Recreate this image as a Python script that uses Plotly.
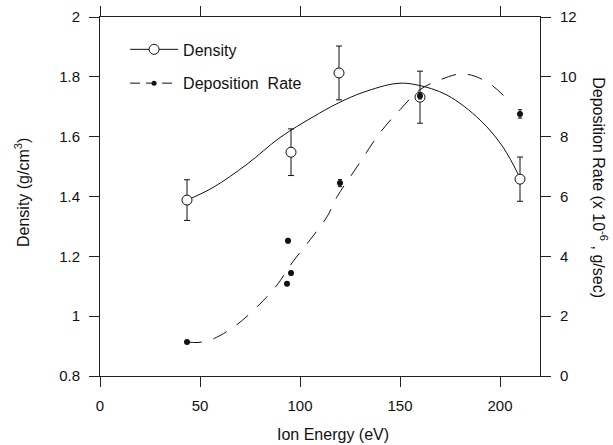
import plotly.graph_objects as go

# Measured points
dens_x = [43.5, 95.5, 119.5, 160, 210]
dens_y = [1.388, 1.548, 1.813, 1.732, 1.458]
dens_err = [0.068, 0.078, 0.09, 0.087, 0.074]

rate_x = [43.5, 93.5, 94, 95.5, 120, 160, 210]
rate_y = [1.14, 3.08, 4.52, 3.44, 6.45, 9.36, 8.76]
rate_err = [0, 0.05, 0.07, 0.06, 0.12, 0.1, 0.14]

# Fitted curves
dens_fit_x = [43.5, 56.5, 73.5, 90, 106.5, 119, 131.5, 148.5, 158.5, 173.5, 190, 201.5, 210]
dens_fit_y = [1.388, 1.43, 1.508, 1.597, 1.666, 1.712, 1.748, 1.778, 1.773, 1.739, 1.656, 1.565, 1.462]

rate_fit_x = [43.5, 49, 56.5, 67.5, 78.5, 88.5, 96, 105, 113.5, 118.5, 128.5, 140, 150, 160, 170, 181.5, 193.5, 205]
rate_fit_y = [1.14, 1.12, 1.24, 1.67, 2.31, 3.04, 3.78, 4.55, 5.32, 5.99, 6.99, 8.13, 8.90, 9.57, 9.90, 10.10, 9.83, 9.16]

x_range = [0, 220]
x_ticks = [0, 50, 100, 150, 200]
y_ticks = [0.8, 1, 1.2, 1.4, 1.6, 1.8, 2]
y2_ticks = [0, 2, 4, 6, 8, 10, 12]

FONT = "Liberation Sans, Arial, sans-serif"
INK = "#111"

fig = go.Figure()

fig.add_trace(go.Scatter(x=dens_fit_x, y=dens_fit_y, mode="lines", line=dict(color=INK, width=1, shape="spline"),
                         showlegend=False, hoverinfo="skip"))
fig.add_trace(go.Scatter(x=rate_fit_x, y=rate_fit_y, yaxis="y2", mode="lines",
                         line=dict(color=INK, width=1, dash="15px,12px", shape="spline"),
                         showlegend=False, hoverinfo="skip"))

fig.add_trace(go.Scatter(x=dens_x, y=dens_y, mode="markers",
                         marker=dict(symbol="circle", size=10, color="white", line=dict(color=INK, width=1)),
                         error_y=dict(type="data", array=dens_err, color=INK, thickness=1, width=3),
                         showlegend=False))
fig.add_trace(go.Scatter(x=rate_x, y=rate_y, yaxis="y2", mode="markers",
                         marker=dict(symbol="circle", size=6, color=INK),
                         error_y=dict(type="data", array=rate_err, color=INK, thickness=1, width=2),
                         showlegend=False))

# invisible trace so the top axis is drawn
fig.add_trace(go.Scatter(x=[None], y=[None], xaxis="x2", mode="markers", showlegend=False, hoverinfo="skip"))

# legend entries
fig.add_trace(go.Scatter(x=[None], y=[None], mode="lines+markers", name="Density", legendgroup="a",
                         line=dict(color=INK, width=1),
                         marker=dict(symbol="circle", size=10, color="white", line=dict(color=INK, width=1))))
fig.add_trace(go.Scatter(x=[None], y=[None], mode="lines+markers", name="Deposition  Rate", legendgroup="b",
                         line=dict(color=INK, width=1, dash="10px,6px"),
                         marker=dict(symbol="circle", size=5, color=INK)))

axis_common = dict(showgrid=False, zeroline=False, showline=True, linecolor="#222", linewidth=1,
                   ticks="outside", ticklen=10, tickcolor="#222", tickwidth=1, automargin=False,
                   ticklabelstandoff=6,
                   tickfont=dict(family=FONT, size=15, color=INK))

fig.update_layout(
    width=613, height=445,
    margin=dict(l=100, r=73, t=17, b=69),
    paper_bgcolor="white", plot_bgcolor="white",
    font=dict(family=FONT, color=INK),
    xaxis=dict(range=x_range, tickvals=x_ticks, **axis_common),
    xaxis2=dict(range=x_range, tickvals=x_ticks, overlaying="x", side="top", anchor="y",
                showgrid=False, zeroline=False, showline=True, linecolor="#222", linewidth=1,
                ticks="outside", ticklen=10, tickcolor="#222", tickwidth=1, showticklabels=False,
                automargin=False),
    yaxis=dict(range=[0.8, 2], tickvals=y_ticks, **axis_common),
    yaxis2=dict(range=[0, 12], tickvals=y2_ticks, overlaying="y", side="right", **axis_common),
    legend=dict(x=0.057, y=0.957, xanchor="left", yanchor="top", bgcolor="rgba(0,0,0,0)",
                font=dict(family=FONT, size=16, color=INK), itemwidth=48, tracegroupgap=10),
    showlegend=True,
    annotations=[
        dict(text="Ion Energy (eV)", x=0.53, y=-0.1616, xref="paper", yref="paper",
             showarrow=False, xanchor="center", yanchor="middle", font=dict(family=FONT, size=16, color=INK)),
        dict(text="Density (g/cm<sup>3</sup>)", x=-0.177, y=0.51, xref="paper", yref="paper", textangle=-90,
             showarrow=False, xanchor="center", yanchor="middle", font=dict(family=FONT, size=16, color=INK)),
        dict(text="Deposition Rate (x 10<sup>-6</sup> , g/sec)", x=1.137, y=0.525, xref="paper", yref="paper",
             textangle=90, showarrow=False, xanchor="center", yanchor="middle",
             font=dict(family=FONT, size=16, color=INK)),
    ],
)

fig.write_html("out.html", config={"displayModeBar": False},
               post_script="document.body.style.margin='0';document.body.style.overflow='hidden';")
